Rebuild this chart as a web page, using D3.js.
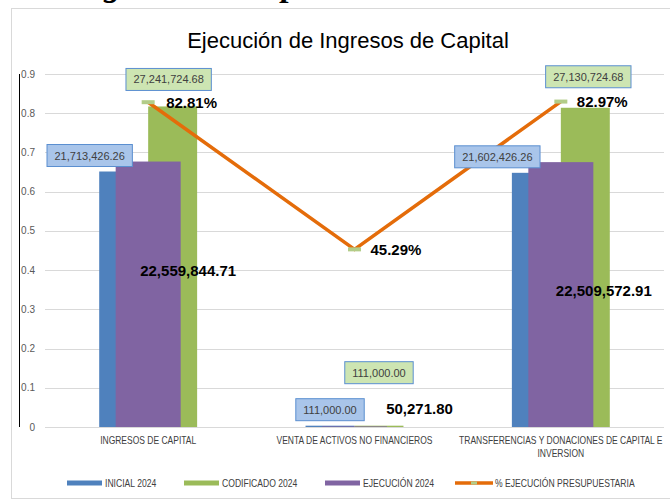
<!DOCTYPE html>
<html>
<head>
<meta charset="utf-8">
<script src="https://cdn.jsdelivr.net/npm/d3@7"></script>
<style>
  body { margin: 0; background: #fff; }
  svg { display: block; font-family: "Liberation Sans", Arial, sans-serif; }
</style>
</head>
<body>
<svg></svg>
<script>
// datos del grafico
var categories = ['INGRESOS DE CAPITAL', 'VENTA DE ACTIVOS NO FINANCIEROS', 'TRANSFERENCIAS Y DONACIONES DE CAPITAL E INVERSION'];
var inicial = [21713426.26, 111000.00, 21602426.26];
var codificado = [27241724.68, 111000.00, 27130724.68];
var ejecucion = [22559844.71, 50271.80, 22509572.91];
var porcentaje = [0.8281, 0.4529, 0.8297];
var yTicks = [0, 0.1, 0.2, 0.3, 0.4, 0.5, 0.6, 0.7, 0.8, 0.9];
var legendNames = ['INICIAL 2024', 'CODIFICADO 2024', 'EJECUCIÓN 2024', '% EJECUCIÓN PRESUPUESTARIA'];

document.addEventListener('DOMContentLoaded', function() {

  var width = 670;
  var height = 501;
  var svg = d3.select('svg')
              .attr('width', width)
              .attr('height', height);

  var blue = '#4f81bd', green = '#9bbb59', purple = '#8064a2', orange = '#e46c0a';
  var fmt = d3.format(',.2f');
  var pct = d3.format('.2%');

  // label placement tweaks (pixels), as they were moved by hand in the original
  var inicialDx = [-34, 0, -39];
  var codificadoGap = [16, 42, 20];
  var codificadoDx = [-4, 0, 3];
  var ejecucionDx = [40, 65, 43];
  var ejecucionDy = [109, -18, 128];

  // cut-off heading above the chart box
  svg.append('text')
     .attr('x', 72)
     .attr('y', -4.5)
     .style('font-family', '"Liberation Serif", serif')
     .style('font-weight', 'bold')
     .style('font-style', 'italic')
     .style('font-size', '34px')
     .text('Ingresos de Capital');

  // chart frame
  svg.append('rect')
     .attr('x', 11.5).attr('y', 8.5)
     .attr('width', 700).attr('height', 490)
     .attr('fill', 'none')
     .attr('stroke', '#d9d9d9');

  svg.append('text')
     .attr('x', 348)
     .attr('y', 48)
     .attr('text-anchor', 'middle')
     .style('font-size', '22px')
     .attr('fill', '#000')
     .text('Ejecución de Ingresos de Capital');

  var xScale = d3.scaleBand()
                 .domain(categories)
                 .range([45, 664]);

  var yScale = d3.scaleLinear()
                 .domain([0, 0.9])
                 .range([427, 74]);

  // money values sit on a hidden secondary axis 0 - 30,000,000
  var yMoney = d3.scaleLinear()
                 .domain([0, 30000000])
                 .range([427, 74]);

  var xSub = d3.scaleBand()
               .domain(['inicial', 'codificado'])
               .range([0, xScale.bandwidth()])
               .paddingInner(0)
               .paddingOuter(1.107);

  var purpleW = xScale.bandwidth() * 0.315;

  // gridlines
  svg.append('g')
     .selectAll('line')
     .data(yTicks)
     .enter()
     .append('line')
       .attr('x1', 45)
       .attr('x2', 664)
       .attr('y1', d => Math.round(yScale(d)) + 0.5)
       .attr('y2', d => Math.round(yScale(d)) + 0.5)
       .attr('stroke', '#d9d9d9');

  svg.append('line')
     .attr('x1', 19.5).attr('x2', 19.5)
     .attr('y1', yScale(0.9)).attr('y2', yScale(0))
     .attr('stroke', '#000');

  svg.append('g')
     .selectAll('text')
     .data(yTicks)
     .enter()
     .append('text')
       .attr('x', 35)
       .attr('y', d => yScale(d) + 3.5)
       .attr('text-anchor', 'end')
       .attr('fill', '#595959')
       .style('font-size', '10px')
       .text(d => d3.format('.1~f')(d));

  var groups = svg.selectAll('.cat')
    .data(categories)
    .enter()
    .append('g')
      .classed('cat', true)
      .attr('transform', d => `translate(${xScale(d)}, 0)`);

  groups.append('rect')
        .attr('x', xSub('inicial'))
        .attr('width', xSub.bandwidth())
        .attr('y', (d, i) => yMoney(inicial[i]))
        .attr('height', (d, i) => yMoney(0) - yMoney(inicial[i]))
        .attr('fill', blue);

  groups.append('rect')
        .attr('x', xSub('codificado'))
        .attr('width', xSub.bandwidth())
        .attr('y', (d, i) => yMoney(codificado[i]))
        .attr('height', (d, i) => yMoney(0) - yMoney(codificado[i]))
        .attr('fill', green);

  groups.append('rect')
        .attr('x', (xScale.bandwidth() - purpleW) / 2)
        .attr('width', purpleW)
        .attr('y', (d, i) => yMoney(ejecucion[i]))
        .attr('height', (d, i) => yMoney(0) - yMoney(ejecucion[i]))
        .attr('fill', purple);

  // percentage line
  var cx = d => xScale(d) + xScale.bandwidth() / 2;
  var line = d3.line()
               .x((d, i) => cx(categories[i]))
               .y(d => yScale(d));

  svg.append('path')
     .datum(porcentaje)
     .attr('d', line)
     .attr('fill', 'none')
     .attr('stroke', orange)
     .attr('stroke-width', 3.5);

  svg.selectAll('.marker')
     .data(porcentaje)
     .enter()
     .append('rect')
       .classed('marker', true)
       .attr('x', (d, i) => cx(categories[i]) - 6.5)
       .attr('y', d => yScale(d) - 2)
       .attr('width', 13)
       .attr('height', 4)
       .attr('fill', '#b2cc88');

  svg.selectAll('.pct')
     .data(porcentaje)
     .enter()
     .append('text')
       .classed('pct', true)
       .attr('x', (d, i) => cx(categories[i]) + (i === 0 ? 18 : 16))
       .attr('y', d => yScale(d) + 5.5)
       .style('font-size', '15px')
       .style('font-weight', 'bold')
       .attr('fill', '#000')
       .text(d => pct(d));

  // boxed value labels
  function boxLabel(x, bottom, value, fill) {
    var g = svg.append('g');
    var t = g.append('text')
             .attr('x', x)
             .attr('y', bottom - 7)
             .attr('text-anchor', 'middle')
             .attr('fill', '#404040')
             .style('font-size', '11px')
             .text(fmt(value));
    var w = t.node().getComputedTextLength() + 15;
    g.insert('rect', 'text')
     .attr('x', x - w / 2)
     .attr('y', bottom - 22)
     .attr('width', w)
     .attr('height', 22)
     .attr('fill', fill)
     .attr('stroke', '#5b8fd0')
     .attr('stroke-width', 1);
  }

  categories.forEach(function(c, i) {
    var x0 = xScale(c);
    boxLabel(x0 + xSub('inicial') + xSub.bandwidth() / 2 + inicialDx[i],
             yMoney(inicial[i]) - 5, inicial[i], '#a9c5ea');
    boxLabel(x0 + xSub('codificado') + xSub.bandwidth() / 2 + codificadoDx[i],
             yMoney(codificado[i]) - codificadoGap[i], codificado[i], '#cde5b2');
    svg.append('text')
       .attr('x', cx(c) + ejecucionDx[i])
       .attr('y', yMoney(ejecucion[i]) + ejecucionDy[i] + 5.5)
       .attr('text-anchor', 'middle')
       .style('font-size', '15px')
       .style('font-weight', 'bold')
       .attr('fill', '#000')
       .text(fmt(ejecucion[i]));
  });

  // category labels (wrapped), squeezed with a scale since no narrow font is around
  var catLines = [['INGRESOS DE CAPITAL'], ['VENTA DE ACTIVOS NO FINANCIEROS'],
                  ['TRANSFERENCIAS Y DONACIONES DE CAPITAL E', 'INVERSION']];
  categories.forEach(function(c, i) {
    catLines[i].forEach(function(s, k) {
      svg.append('g')
         .attr('transform', `translate(${cx(c)}, ${444 + k * 13}) scale(0.85, 1)`)
         .append('text')
           .attr('x', 0)
           .attr('y', 0)
           .attr('text-anchor', 'middle')
           .attr('fill', '#404040')
           .style('font-size', '10px')
           .text(s);
    });
  });

  // legend
  var legendX = [67, 184, 325, 455];
  var legendColors = [blue, green, purple, orange];
  var legend = svg.selectAll('.legend')
    .data(legendNames)
    .enter()
    .append('g')
      .classed('legend', true)
      .attr('transform', (d, i) => `translate(${legendX[i]}, 483)`);

  legend.append('rect')
        .attr('x', 0)
        .attr('y', (d, i) => i === 3 ? -1.75 : -2.5)
        .attr('width', (d, i) => i === 3 ? 38 : 35)
        .attr('height', (d, i) => i === 3 ? 3.5 : 5)
        .attr('fill', (d, i) => legendColors[i]);

  legend.filter((d, i) => i === 3)
        .append('rect')
        .attr('x', 16).attr('y', -1.5)
        .attr('width', 6).attr('height', 3)
        .attr('fill', '#b2cc88');

  legend.append('g')
        .attr('transform', (d, i) => `translate(${i === 3 ? 40 : 38}, 3.5) scale(0.86, 1)`)
        .append('text')
          .attr('fill', '#404040')
          .style('font-size', '10px')
          .text(d => d);

});
</script>
</body>
</html>
